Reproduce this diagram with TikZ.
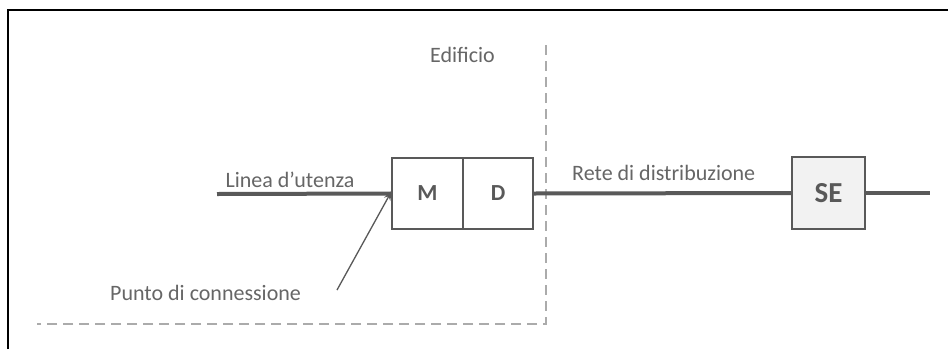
\documentclass[tikz,border=0pt]{standalone}
\usepackage{fontspec}
\setmainfont{Carlito}
\usetikzlibrary{arrows.meta}
\definecolor{ink}{HTML}{595959}
\definecolor{txt}{HTML}{666666}
\definecolor{bordergray}{HTML}{ABABAB}
\definecolor{sefill}{HTML}{F2F2F2}
\begin{document}
\begin{tikzpicture}[x=1pt,y=-1pt,
  wire/.style={ink,line width=4pt},
  boxpart/.style={draw=ink,line width=2pt,minimum height=71pt,inner sep=0pt,outer sep=0pt,
    font=\fontsize{23}{25}\selectfont\bfseries,text=ink},
  label/.style={text=txt,font=\fontsize{22}{24}\selectfont,inner sep=0pt}]
\useasboundingbox (0,0) rectangle (948,349);
\fill[white] (0,0) rectangle (948,349);
% outer frame
\draw[black,line width=1.3pt] (8,349) -- (8,10) -- (948,10);
% building boundary
\draw[bordergray,line width=2.3pt,dash pattern=on 10pt off 6pt] (546,45) -- (546,324) -- (37,324);
\node[label,anchor=east] (edif) at (495,55) {Edificio};
% meter and distribution boxes
\node[boxpart,minimum width=71pt,fill=white] (M) at (427.5,193.5) {M};
\node[boxpart,minimum width=70pt,fill=white,anchor=west] (D) at (M.east) {D};
\node[boxpart,minimum width=73pt,minimum height=72pt,fill=sefill,
  font=\fontsize{29}{31}\selectfont\bfseries] (SE) at (828.5,193) {SE};
% lines
\coordinate (lstart) at (217,194);
\coordinate (rend) at (930,193);
\draw[wire] (lstart) -- (M.west);
\draw[wire] (D.east) -- (SE.west);
\draw[wire] (SE.east) -- (rend);
% labels
\node[label] (lin) at (290,180) {Linea d’utenza};
\node[label,anchor=west] (rete) at (572,173) {Rete di distribuzione};
\node[label,anchor=west] (punto) at (110,293) {Punto di connessione};
\coordinate (ptail) at (337,290);
\draw[ink,line width=1.3pt,-{Stealth[length=10pt,width=7pt]}] (ptail) -- ([yshift=3pt]M.west);
\end{tikzpicture}
\end{document}
